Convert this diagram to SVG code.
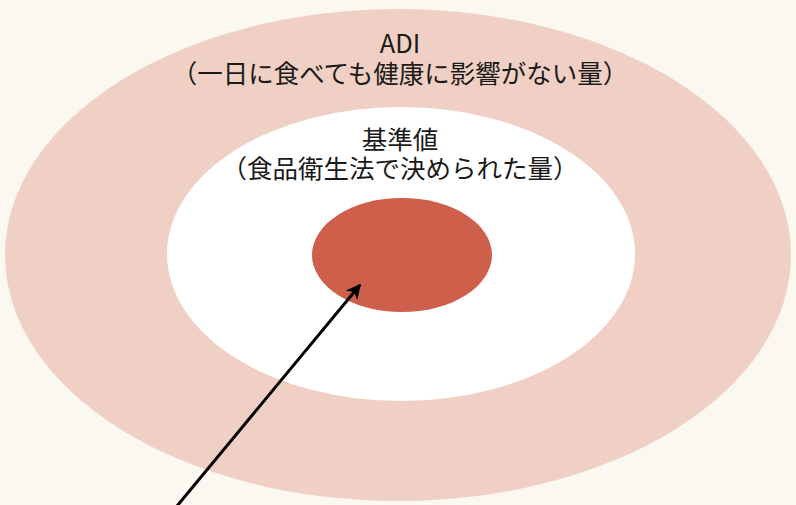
<svg xmlns="http://www.w3.org/2000/svg" width="796" height="505" viewBox="0 0 796 505">
<style>
text{font-family:"Noto Sans CJK JP","Noto Sans",sans-serif;font-size:25.5px;fill:#1a1a1a;text-anchor:middle}
</style>
<defs>
<marker id="ah" viewBox="0 0 10 10" refX="9" refY="5" markerWidth="15" markerHeight="15" orient="auto" markerUnits="userSpaceOnUse">
<path d="M0,0 L10,5 L0,10 L3,5 Z" fill="#000"/>
</marker>
</defs>
<rect width="796" height="505" fill="#fbf7f1"/>
<g id="adi">
<ellipse cx="398" cy="255" rx="393" ry="246" fill="#f0d0c4"/>
<text x="400" y="53">ADI</text>
<text x="400" y="83">（一日に食べても健康に影響がない量）</text>
</g>
<g id="kijunchi">
<ellipse cx="401" cy="254" rx="234" ry="147" fill="#ffffff"/>
<text x="400" y="149">基準値</text>
<text x="400" y="178">（食品衛生法で決められた量）</text>
</g>
<g id="center">
<ellipse cx="402" cy="255" rx="90" ry="57" fill="#cd5f4b"/>
</g>
<g id="connectors">
<line x1="177" y1="506" x2="360" y2="285" stroke="#000" stroke-width="3" marker-end="url(#ah)"/>
</g>
</svg>
